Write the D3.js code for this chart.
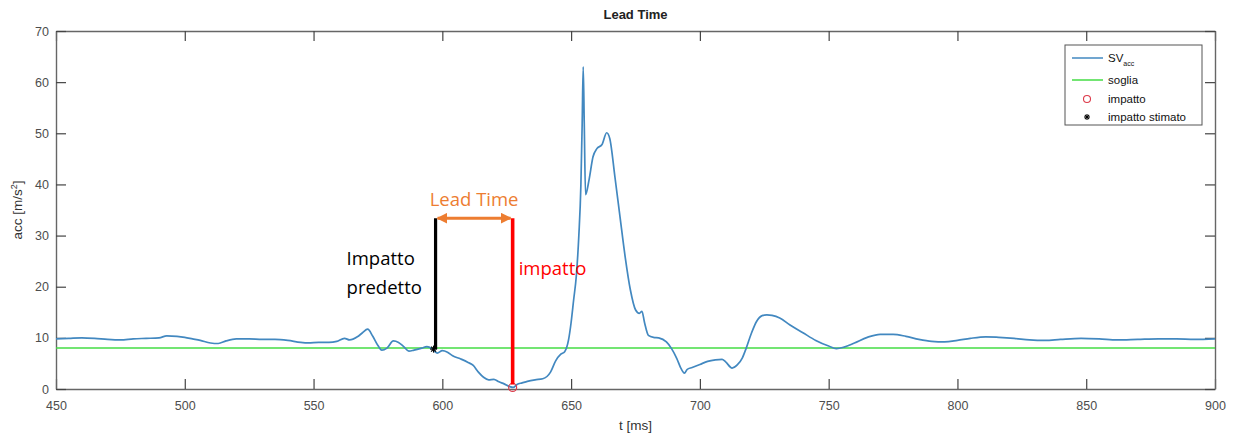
<!doctype html>
<title>Lead Time</title>
<script src="https://cdnjs.cloudflare.com/ajax/libs/d3/7.8.5/d3.min.js"></script>
<style>
body, html {
  margin: 0;
  background: #fff;
}
svg text { font-family: "Liberation Sans", Arial, sans-serif; }
.tick text { fill: #4d4d4d; font-size: 12.5px; }
.note { font-family: "Open Sans", sans-serif; font-size: 18.5px; }
</style>
<div id="chart"></div>
<script>
// time [ms] and SV acc [m/s^2]
var tMs = [450, 455, 460, 465, 470, 475, 480, 485, 490, 493, 497, 500, 503, 506, 510, 513, 516, 520,
  525, 530, 535, 540, 545, 548, 552, 556, 559, 562, 564, 567, 569, 571, 573, 575, 576.5, 578.5, 581,
  583, 585, 587, 589, 592, 594, 596, 598, 600, 602, 604, 607, 610, 612, 614, 616, 618, 620, 622, 624,
  626, 627.5, 629, 631, 633, 636, 639, 642, 644, 646, 647.5, 649, 650, 651, 652, 653, 653.8, 654.3,
  654.7, 655.1, 655.6, 657, 658.5, 660, 662, 663.8, 665, 667, 669, 671, 673, 675, 676.5, 677.5, 678.5,
  680, 682, 684, 687, 689, 691, 692.5, 694, 695, 697, 700, 703, 706, 708.6, 710, 712.5, 714.5, 716.5,
  718, 720, 722, 724, 726, 728, 731, 735, 740, 745, 750, 753, 756, 760, 765, 770, 775, 780, 785, 790,
  795, 800, 805, 811, 816, 822, 828, 834, 840, 848, 855, 862, 870, 878, 885, 892, 900];
var svAcc = [9.8, 9.9, 10.0, 9.9, 9.7, 9.6, 9.8, 9.9, 10.0, 10.4, 10.3, 10.1, 9.8, 9.5, 9.0, 8.9, 9.4, 9.8,
  9.8, 9.7, 9.7, 9.5, 9.1, 9.0, 9.1, 9.1, 9.3, 9.9, 9.6, 10.2, 11.0, 11.7, 10.3, 8.5, 7.6, 8.0, 9.4,
  9.1, 8.3, 7.4, 7.6, 8.0, 8.3, 7.9, 7.0, 7.5, 7.2, 6.5, 5.9, 5.2, 4.6, 3.3, 2.3, 1.8, 1.9, 1.4, 1.0,
  0.5, 0.3, 0.9, 1.2, 1.5, 1.8, 2.0, 3.3, 5.5, 6.8, 7.3, 9.6, 13.0, 17.5, 22.0, 30.0, 40.0, 52.0,
  63.0, 52.0, 38.0, 41.0, 45.4, 47.0, 47.8, 50.1, 49.0, 41.5, 33.6, 25.8, 19.4, 15.5, 14.8, 15.2, 13.0,
  10.5, 10.1, 10.0, 9.2, 7.9, 6.0, 4.2, 3.1, 3.8, 4.2, 4.8, 5.4, 5.7, 5.8, 5.3, 4.1, 4.7, 6.1,
  8.0, 10.9, 13.2, 14.3, 14.5, 14.4, 13.9, 12.5, 11.0, 9.5, 8.4, 7.9, 8.2, 9.0, 10.1, 10.7, 10.7, 10.3, 9.7, 9.3,
  9.2, 9.5, 9.9, 10.2, 10.1, 9.9, 9.6, 9.5, 9.7, 9.9, 9.8, 9.6, 9.7, 9.8, 9.8, 9.7, 9.8];

var soglia = 8;
var impatto = [627.3, 0.3];
var impattoStimato = [596.6, 7.8];
var leadTop = 33.4;

var xTicks = [450, 500, 550, 600, 650, 700, 750, 800, 850, 900];
var yTicks = [0, 10, 20, 30, 40, 50, 60, 70];

var width = 1235, height = 439;
var margin = {top: 31, right: 20, bottom: 50, left: 56};
var w = width - margin.left - margin.right;
var h = height - margin.top - margin.bottom;

var svg = d3.select("#chart").append("svg")
  .attr("width", width)
  .attr("height", height);

var x = d3.scaleLinear().domain([450, 900]).range([0, w]);
var y = d3.scaleLinear().domain([0, 70]).range([h, 0]);

var g = svg.append("g").attr("transform", "translate(" + margin.left + "," + margin.top + ")");

// axes, ticks inside like matlab
function styleAxis(sel) {
  sel.select(".domain").attr("stroke", "#666").attr("stroke-width", 1.4);
  sel.selectAll(".tick line").attr("stroke", "#444").attr("stroke-width", 1.2);
}
g.append("g").attr("transform", "translate(0," + h + ")")
  .call(d3.axisBottom(x).tickValues(xTicks).tickSize(-10).tickSizeOuter(0).tickPadding(10))
  .call(styleAxis)
  .call(s => s.selectAll(".tick text").attr("dy", "0.85em"));
g.append("g")
  .call(d3.axisTop(x).tickValues(xTicks).tickSize(-10).tickSizeOuter(0).tickFormat(""))
  .call(styleAxis);
g.append("g")
  .call(d3.axisLeft(y).tickValues(yTicks).tickSize(-10).tickSizeOuter(0).tickPadding(7))
  .call(styleAxis);
g.append("g").attr("transform", "translate(" + w + ",0)")
  .call(d3.axisRight(y).tickValues(yTicks).tickSize(-10).tickSizeOuter(0).tickFormat(""))
  .call(styleAxis);

// threshold
g.append("line")
  .attr("x1", 0).attr("x2", w)
  .attr("y1", y(soglia)).attr("y2", y(soglia))
  .attr("stroke", "#44dd44").attr("stroke-width", 1.5);

// signal
var line = d3.line().x((d, i) => x(tMs[i])).y(d => y(d)).curve(d3.curveMonotoneX);
g.append("path")
  .datum(svAcc)
  .attr("fill", "none")
  .attr("stroke", "#4288c0")
  .attr("stroke-width", 1.7)
  .attr("d", line);

// markers
g.append("circle")
  .attr("cx", x(impatto[0])).attr("cy", y(impatto[1])).attr("r", 4)
  .attr("fill", "none").attr("stroke", "#dd3a4a").attr("stroke-width", 1.2);

function drawStar(px, py) {
  var s = g.append("g").attr("transform", "translate(" + px + "," + py + ")");
  [0, 45, 90, 135].forEach(function(a) {
    s.append("line")
      .attr("x1", -3.5).attr("x2", 3.5).attr("y1", 0).attr("y2", 0)
      .attr("transform", "rotate(" + a + ")")
      .attr("stroke", "#000").attr("stroke-width", 1.2);
  });
}
drawStar(x(impattoStimato[0]), y(impattoStimato[1]));

// annotations
g.append("line")
  .attr("x1", x(impattoStimato[0]) + 2).attr("x2", x(impattoStimato[0]) + 2)
  .attr("y1", y(leadTop)).attr("y2", y(impattoStimato[1]))
  .attr("stroke", "#000").attr("stroke-width", 3.2);
g.append("line")
  .attr("x1", x(impatto[0])).attr("x2", x(impatto[0]))
  .attr("y1", y(leadTop)).attr("y2", y(impatto[1]) - 3)
  .attr("stroke", "#ff0000").attr("stroke-width", 3.6);

var defs = svg.append("defs");
defs.append("marker").attr("id", "ah")
  .attr("viewBox", "0 0 10 10").attr("refX", 9).attr("refY", 5)
  .attr("markerUnits", "userSpaceOnUse")
  .attr("markerWidth", 11).attr("markerHeight", 11)
  .attr("orient", "auto-start-reverse")
  .append("path").attr("d", "M0,0L10,5L0,10z").attr("fill", "#ed7d31");

g.append("line")
  .attr("x1", x(impattoStimato[0]) + 4).attr("x2", x(impatto[0]) - 2)
  .attr("y1", y(leadTop)).attr("y2", y(leadTop))
  .attr("stroke", "#ed7d31").attr("stroke-width", 3)
  .attr("marker-start", "url(#ah)").attr("marker-end", "url(#ah)");

g.append("text").attr("class", "note")
  .attr("x", (x(impattoStimato[0]) + x(impatto[0])) / 2 + 1).attr("y", y(leadTop) - 12)
  .attr("text-anchor", "middle").attr("fill", "#ed7d31")
  .text("Lead Time");
g.append("text").attr("class", "note")
  .attr("x", x(impattoStimato[0]) - 87).attr("y", y(leadTop) + 47)
  .attr("fill", "#000").text("Impatto");
g.append("text").attr("class", "note")
  .attr("x", x(impattoStimato[0]) - 87).attr("y", y(leadTop) + 76)
  .attr("fill", "#000").text("predetto");
g.append("text").attr("class", "note")
  .attr("x", x(impatto[0]) + 6).attr("y", y(leadTop) + 57)
  .attr("fill", "#ff0000").text("impatto");

// titles
svg.append("text")
  .attr("x", margin.left + w / 2).attr("y", 19)
  .attr("text-anchor", "middle").attr("font-weight", "bold")
  .attr("font-size", 13).attr("fill", "#222")
  .text("Lead Time");
svg.append("text")
  .attr("x", margin.left + w / 2).attr("y", 430)
  .attr("text-anchor", "middle").attr("font-size", 13.5).attr("fill", "#333")
  .text("t [ms]");
var yl = svg.append("text")
  .attr("transform", "translate(22," + (margin.top + h / 2) + ") rotate(-90)")
  .attr("text-anchor", "middle").attr("font-size", 13.5).attr("fill", "#333");
yl.append("tspan").text("acc [m/s");
yl.append("tspan").attr("font-size", 9).attr("dy", -5).text("2");
yl.append("tspan").attr("dy", 5).text("]");

// legend
var lg = svg.append("g").attr("transform", "translate(1065,45)");
lg.append("rect").attr("width", 137).attr("height", 80)
  .attr("fill", "#fff").attr("stroke", "#555").attr("stroke-width", 1);
lg.append("line").attr("x1", 7).attr("x2", 38).attr("y1", 13).attr("y2", 13)
  .attr("stroke", "#4288c0").attr("stroke-width", 1.5);
var t1 = lg.append("text").attr("x", 43).attr("y", 17).attr("font-size", 11.5).attr("fill", "#111");
t1.append("tspan").text("SV");
t1.append("tspan").attr("font-size", 7).attr("dy", 4).text("acc");
lg.append("line").attr("x1", 7).attr("x2", 38).attr("y1", 35).attr("y2", 35)
  .attr("stroke", "#44dd44").attr("stroke-width", 1.5);
lg.append("text").attr("x", 43).attr("y", 39).attr("font-size", 11.5).attr("fill", "#111").text("soglia");
lg.append("circle").attr("cx", 22).attr("cy", 54).attr("r", 3.5)
  .attr("fill", "none").attr("stroke", "#dd3a4a").attr("stroke-width", 1.1);
lg.append("text").attr("x", 43).attr("y", 58).attr("font-size", 11.5).attr("fill", "#111").text("impatto");
var ls = lg.append("g").attr("transform", "translate(22,72)");
[0, 45, 90, 135].forEach(function(a) {
  ls.append("line").attr("x1", -3).attr("x2", 3)
    .attr("transform", "rotate(" + a + ")")
    .attr("stroke", "#000").attr("stroke-width", 1.1);
});
lg.append("text").attr("x", 43).attr("y", 76).attr("font-size", 11.5).attr("fill", "#111").text("impatto stimato");
</script>
